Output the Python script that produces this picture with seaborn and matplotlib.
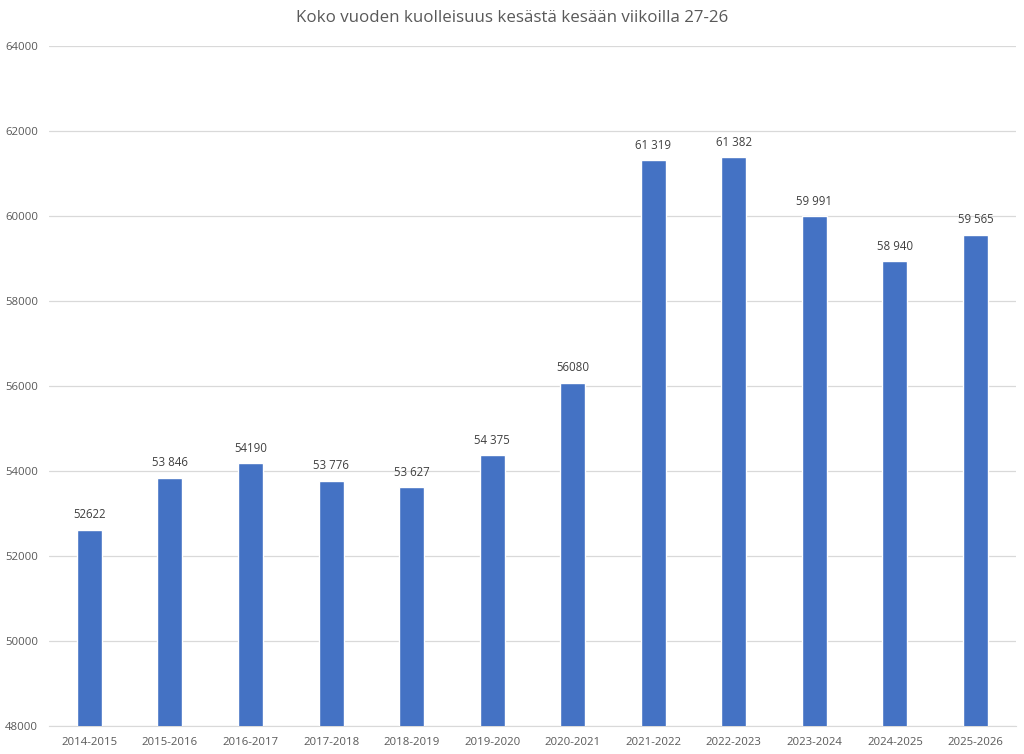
import numpy as np
import pandas as pd
import seaborn as sns
import matplotlib.pyplot as plt

# Data
seasons = ['2014-2015', '2015-2016', '2016-2017', '2017-2018', '2018-2019', '2019-2020',
           '2020-2021', '2021-2022', '2022-2023', '2023-2024', '2024-2025', '2025-2026']
deaths = [52622, 53846, 54190, 53776, 53627, 54375, 56080, 61319, 61382, 59991, 58940, 59565]
value_labels = ['52622', '53 846', '54190', '53 776', '53 627', '54 375', '56080',
                '61 319', '61 382', '59 991', '58 940', '59 565']
y_ticks = [48000, 50000, 52000, 54000, 56000, 58000, 60000, 62000, 64000]

df = pd.DataFrame({'kausi': seasons, 'kuolleet': deaths})

sns.set_style('white')
plt.rcParams['font.family'] = ['Open Sans', 'DejaVu Sans']

grey = '#595959'
fig = plt.figure(figsize=(10.24, 7.54), dpi=100)
ax = fig.add_axes([0.048, 0.037, 0.944, 0.902])

sns.barplot(data=df, x='kausi', y='kuolleet', color='#4472C4', saturation=1,
            width=0.31, ax=ax, zorder=3)

ax.set_ylim(48000, 64000)
ax.set_xlim(-0.5, len(seasons) - 0.5)
ax.set_yticks(y_ticks)
ax.set_yticklabels([str(t) for t in y_ticks])
ax.yaxis.grid(True, color='#D9D9D9', linewidth=0.9, zorder=0)
ax.set_axisbelow(True)
for s in ['top', 'right', 'left']:
    ax.spines[s].set_visible(False)
ax.spines['bottom'].set_color('#D9D9D9')
ax.tick_params(axis='both', length=0, labelsize=8.2, colors=grey, pad=8)
ax.set_xlabel('')
ax.set_ylabel('')

for i, (v, lab) in enumerate(zip(deaths, value_labels)):
    ax.annotate(lab, (i, v), xytext=(0, 6), textcoords='offset points',
                ha='center', va='bottom', fontsize=8.3, color='#404040')

fig.text(0.5, 0.976, 'Koko vuoden kuolleisuus kesästä kesään viikoilla 27-26',
         ha='center', va='center', fontsize=12.2, color=grey)

plt.savefig('out.png', dpi=100)
